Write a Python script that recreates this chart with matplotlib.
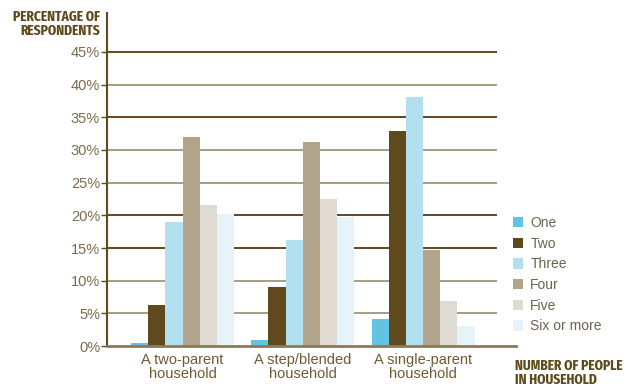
import matplotlib.pyplot as plt
import numpy as np

# Share of respondents by household type and number of people in the household
household_types = ['A two-parent\nhousehold', 'A step/blended\nhousehold', 'A single-parent\nhousehold']
sizes = ['One', 'Two', 'Three', 'Four', 'Five', 'Six or more']
one = [0.5, 0.9, 4.1]
two = [6.3, 9.1, 32.9]
three = [19.0, 16.2, 38.1]
four = [32.0, 31.2, 14.7]
five = [21.6, 22.5, 6.9]
six_plus = [20.2, 19.7, 3.1]
yticks = [0, 5, 10, 15, 20, 25, 30, 35, 40, 45]

series = [one, two, three, four, five, six_plus]
colors = ['#62c3e3', '#5e4a1c', '#b3e0f0', '#b0a48a', '#dfdbd2', '#e6f4fa']
grid_colors = ['#8a7a5c', '#a89c84', '#a89c84', '#5e4a1c', '#5e4a1c',
               '#a89c84', '#a89c84', '#5e4a1c', '#a89c84', '#5e4a1c']

brown = '#5e4a1c'
label_color = '#6e5a34'
heading_font = ['Fira Sans Extra Condensed', 'IBM Plex Sans Condensed', 'DejaVu Sans']
plt.rcParams['font.family'] = ['Liberation Sans', 'DejaVu Sans']

fig = plt.figure(figsize=(6.28, 3.90), dpi=100)
ax = fig.add_axes([107 / 628, 44 / 390, (516 - 107) / 628, (346 - 13) / 390])

x = np.arange(len(household_types))
width = 1 / 7
handles = []
for i, (vals, c) in enumerate(zip(series, colors)):
    b = ax.bar(x + (i - 2.5) * width, vals, width=width, color=c, linewidth=0, zorder=3)
    handles.append(b)

x_left = -0.628
ax.set_xlim(x_left, 2.773)
ax.set_ylim(0, 45 * (346 - 13) / (346 - 52))

# horizontal rules stop short of the legend column
for y, gc in zip(yticks, grid_colors):
    if y == 0:
        continue
    ax.hlines(y, x_left, 2.615, color=gc, linewidth=1.4, zorder=2)

ax.set_yticks(yticks)
ax.set_yticklabels([f'{v}%' for v in yticks], fontsize=10.5, color='#7b6b50')
ax.tick_params(axis='y', length=4, width=1, color=brown, pad=1)
ax.set_xticks(x)
ax.set_xticklabels(household_types, fontsize=10.5, color=label_color, linespacing=1.05)
ax.tick_params(axis='x', length=0, pad=5)

for s in ['top', 'right']:
    ax.spines[s].set_visible(False)
ax.spines['left'].set_color(brown)
ax.spines['left'].set_linewidth(1.5)
ax.spines['bottom'].set_color('#8a7a5c')
ax.spines['bottom'].set_linewidth(2)
ax.spines['left'].set_zorder(4)
ax.spines['bottom'].set_zorder(4)

fig.text(100 / 628, 1 - 10 / 390, 'PERCENTAGE OF\nRESPONDENTS', ha='right', va='top',
         fontsize=10.5, fontweight='bold', color=brown, family=heading_font, linespacing=0.95)
fig.text(515 / 628, 1 - 359 / 390, 'NUMBER OF PEOPLE\nIN HOUSEHOLD', ha='left', va='top',
         fontsize=10.5, fontweight='bold', color=brown, family=heading_font, linespacing=0.95)

leg = ax.legend(handles, sizes, loc='upper left', bbox_to_anchor=(513 / 628, 1 - 216 / 390),
                bbox_transform=fig.transFigure, frameon=False, fontsize=10,
                handlelength=0.75, handleheight=0.75, handletextpad=0.5,
                borderpad=0, borderaxespad=0, labelspacing=0.48)
for t in leg.get_texts():
    t.set_color('#6b6350')

plt.savefig('out.png', dpi=100)
plt.close()
